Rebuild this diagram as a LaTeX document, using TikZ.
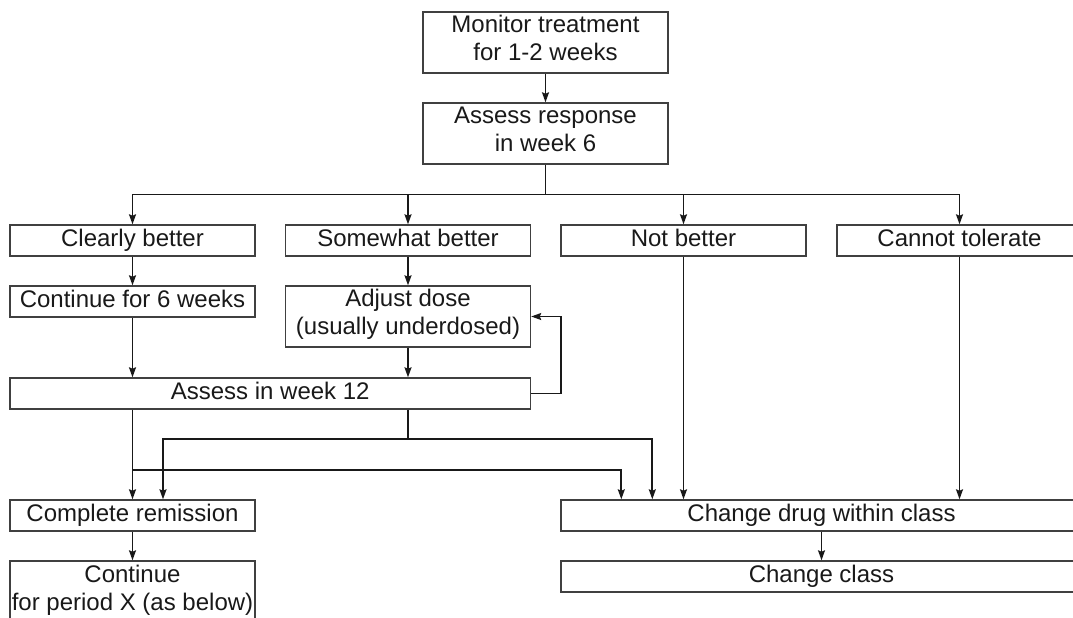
\documentclass[tikz,border=0pt]{standalone}
\usepackage{fontspec}
\setmainfont{Liberation Sans}
\usetikzlibrary{arrows.meta,positioning}

\begin{document}
\begin{tikzpicture}[x=1pt,y=-1pt,
	box/.style={draw=black!75,line width=1.4pt,text=black!90,minimum width=245pt,minimum height=31pt,
		inner sep=0pt,align=center,font=\fontsize{24}{28}\selectfont,
		execute at begin node=\strut,execute at end node=\strut},
	tall/.style={box,minimum height=61pt},
	wide/.style={box,minimum width=521pt},
	conn/.style={draw=black!90,line width=1.7pt},
	>={Stealth[length=10pt,width=7pt,inset=1.5pt]}]
	\useasboundingbox (0,0) rectangle (1073,618);
	\clip (0,0) rectangle (1073,618);
	\node[tall] (mon) at (545.5,42.5) {Monitor treatment\\for 1-2 weeks};
	\node[tall] (resp) at (545.5,133.5) {Assess response\\in week 6};
	\node[box] (clear) at (132.5,240.5) {Clearly better};
	\node[box] (some) at (408,240.5) {Somewhat better};
	\node[box] (notb) at (683.5,240.5) {Not better};
	\node[box] (intol) at (959.5,240.5) {Cannot tolerate};
	\node[box] (cont6) at (132.5,301.5) {Continue for 6 weeks};
	\node[tall] (adj) at (408,316.5) {Adjust dose\\(usually underdosed)};
	\node[box,minimum width=520.5pt] (wk12) at (270.25,393.5) {Assess in week 12};
	\node[box] (remis) at (132.5,515.5) {Complete remission};
	\node[tall] (contx) at (132.5,591.5) {Continue\\for period X (as below)};
	\node[wide] (chdrug) at (821.5,515.5) {Change drug within class};
	\node[wide] (chclass) at (821.5,576.5) {Change class};
	\coordinate (split) at (545.5,194.5);
	\coordinate (jA) at (132.5,470);
	\coordinate (jB) at (408,439);
	\path[conn,->]
		(mon) edge (resp)
		(clear) edge (cont6)
		(some) edge (adj)
		(remis) edge (contx)
		(chdrug) edge (chclass);
	\draw[conn] (resp) -- (split);
	\draw[conn,->] (split) -| (clear);
	\draw[conn,->] (split) -| (some);
	\draw[conn,->] (split) -| (notb);
	\draw[conn,->] (split) -| (intol);
	\draw[conn,->] (cont6) -- (cont6 |- wk12.north);
	\draw[conn,->] (adj) -- (adj |- wk12.north);
	\draw[conn,->] (wk12.east) -- ++(30,0) |- (adj.east);
	\draw[conn,->] (cont6 |- wk12.south) -- (remis);
	\draw[conn,->] (jA) -| ([xshift=61pt]chdrug.north west);
	\draw[conn] (some |- wk12.south) -- (jB);
	\draw[conn,->] (jB) -| ([xshift=30.5pt]remis.north);
	\draw[conn,->] (jB) -| ([xshift=92pt]chdrug.north west);
	\draw[conn,->] (notb) -- (notb |- chdrug.north);
	\draw[conn,->] (intol) -- (intol |- chdrug.north);
\end{tikzpicture}
\end{document}
